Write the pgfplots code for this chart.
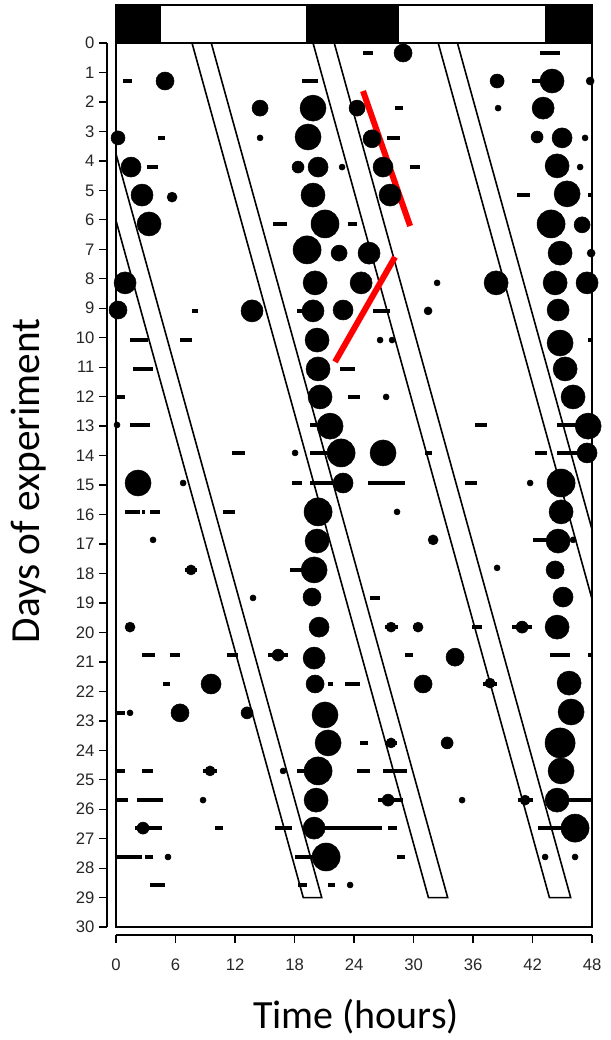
\documentclass[border=0pt]{standalone}
\usepackage{fontspec}
\setmainfont{Carlito}
\newfontfamily\tickfont{Liberation Sans}
\usepackage{pgfplots}
\usepackage{pgfplotstable}
\pgfplotsset{compat=1.18}

% blobs: hour, day, radius (pt)
\pgfplotstableread{
h d r
28.94 0.34 6.75
4.94 1.29 6.75
38.42 1.29 5.25
43.96 1.29 9
47.8 1.29 3
14.52 2.21 6
19.86 2.21 9.75
24.30 2.21 6
38.52 2.21 2.25
43.06 2.21 8.25
0.20 3.22 5.25
14.52 3.22 2.25
19.36 3.19 9.75
25.81 3.25 6.75
42.45 3.19 4.5
44.97 3.22 7.5
47.29 3.22 2.25
1.51 4.21 7.5
18.35 4.21 4.5
20.37 4.21 7.5
22.79 4.21 2.25
26.92 4.21 7.5
44.47 4.17 9
46.79 4.21 2.25
2.62 5.16 8.25
5.65 5.23 3.75
19.86 5.16 9
27.63 5.16 8.25
45.48 5.12 9.75
3.33 6.14 9
21.07 6.14 10.5
43.86 6.14 10.5
46.99 6.17 6
19.26 7.02 10.5
22.49 7.13 6
25.51 7.13 8.25
44.77 7.13 9
47.9 7.13 3
0.91 8.14 8.25
20.07 8.14 9
24.71 8.14 8.25
32.37 8.14 2.25
38.32 8.14 9
44.27 8.14 9
47.49 8.14 8.25
0.20 9.06 6.75
13.71 9.09 8.25
19.86 9.09 8.25
22.89 9.06 7.5
31.46 9.09 3
44.57 9.06 8.25
20.27 10.08 9
26.62 10.08 2.25
27.83 10.08 2.25
44.77 10.18 9.75
20.37 11.06 9
45.28 11.06 9
20.57 12.01 9
27.23 12.01 2.25
46.08 12.01 9
0.10 12.96 2.25
21.58 13.0 9.75
47.6 13.0 9.75
18.05 13.91 2.25
22.69 13.91 10.5
26.92 13.91 9.75
47.49 13.91 7.5
2.22 14.93 9.75
6.76 14.93 2.25
22.89 14.93 7.5
41.75 14.93 2.25
44.87 14.93 10.5
20.37 15.91 10.5
28.33 15.91 2.25
44.87 15.91 9
3.73 16.86 2.25
20.27 16.90 9
31.97 16.86 3.75
44.57 16.90 9
46.08 16.86 2.25
7.56 17.88 3.75
19.97 17.88 9.75
38.42 17.81 2.25
44.27 17.88 6.75
13.81 18.83 2.25
19.76 18.80 6.75
45.07 18.80 7.5
1.41 19.82 3.75
20.47 19.82 7.5
27.73 19.82 3.75
30.45 19.82 3.75
40.94 19.82 4.5
44.47 19.82 9
16.34 20.77 4.5
19.97 20.87 8.25
34.18 20.84 6.75
9.58 21.75 7.5
20.07 21.75 6.75
30.96 21.75 6.75
37.71 21.72 3.75
45.68 21.72 9
1.41 22.73 2.25
6.45 22.73 6.75
13.21 22.73 4.5
21.07 22.80 9.75
45.88 22.70 9.75
21.38 23.75 9.75
27.73 23.75 3.75
33.38 23.75 4.5
44.77 23.75 11.25
9.48 24.70 3.75
16.84 24.70 2.25
20.37 24.70 10.5
44.87 24.70 9.75
8.77 25.69 2.25
20.17 25.69 9
27.43 25.69 4.5
34.89 25.69 2.25
41.24 25.69 3.75
44.47 25.69 9
2.72 26.64 4.5
19.97 26.64 8.25
46.28 26.64 10.5
5.24 27.62 2.25
21.18 27.62 10.5
43.26 27.62 2.25
46.28 27.62 2.25
23.60 28.57 2.25
}\blobs

% short bouts: start hour, end hour, day
\pgfplotstableread{
a b d
24.91 25.92 0.34
42.75 44.77 0.34
0.71 1.61 1.29
18.76 20.37 1.29
41.9 43.96 1.29
28.13 28.94 2.21
4.24 4.94 3.22
27.33 28.64 3.22
3.13 4.24 4.21
29.65 30.65 4.21
40.44 41.75 5.16
47.6 48 5.16
15.83 17.24 6.14
23.39 24.30 6.14
7.66 8.27 9.09
18.25 18.86 9.09
25.92 27.63 9.09
1.41 3.23 10.08
6.45 7.66 10.08
47.6 48 10.08
1.71 3.73 11.06
22.59 24.10 11.06
0.10 0.91 12.01
23.39 24.60 12.01
1.41 3.43 12.96
19.56 20.87 12.96
36.20 37.41 12.96
44.47 46.49 12.96
11.70 13.01 13.91
19.56 21.28 13.91
31.16 31.86 13.91
42.25 43.46 13.91
44.47 46.79 13.91
17.75 18.76 14.93
19.56 22.59 14.93
25.41 29.14 14.93
35.19 36.40 14.93
0.91 2.42 15.91
2.62 2.92 15.91
3.43 4.44 15.91
10.79 12.00 15.91
42.05 43.46 16.86
6.96 8.17 17.88
17.55 18.76 17.88
25.61 26.62 18.83
27.12 28.44 19.82
29.95 30.86 19.82
35.90 36.91 19.82
39.93 41.95 19.82
2.62 3.93 20.77
5.45 6.45 20.77
11.19 12.30 20.77
15.33 17.34 20.77
29.14 29.95 20.77
43.76 45.78 20.77
47.60 48 20.77
4.74 5.45 21.75
21.38 21.88 21.75
23.09 24.60 21.75
37.01 38.42 21.75
0.10 0.91 22.73
24.60 25.41 23.75
27.12 28.33 23.75
0.10 0.91 24.70
2.62 3.73 24.70
8.77 10.18 24.70
18.25 19.26 24.70
24.30 25.61 24.70
26.92 29.34 24.70
0.10 1.21 25.69
2.12 4.74 25.69
26.42 28.94 25.69
40.54 42.05 25.69
45.07 48 25.69
1.92 4.64 26.64
9.98 10.79 26.64
16.03 17.75 26.64
20.27 23.90 26.64
23.60 26.82 26.64
27.43 28.33 26.64
42.55 45.07 26.64
0.10 2.62 27.62
2.92 3.73 27.62
18.05 20.87 27.62
28.33 29.14 27.62
3.43 4.94 28.57
18.35 19.26 28.57
21.38 22.08 28.57
}\bouts

\begin{document}
\begin{tikzpicture}
\begin{axis}[
  scale only axis,
  width=357pt, height=691.5pt,
  xmin=0, xmax=48, ymin=-1.29, ymax=30,
  y dir=reverse,
  axis line style={draw=none},
  xtick={0,6,...,48}, ytick={0,1,...,30},
  xtick pos=bottom, ytick pos=left,
  tick align=outside,
  major tick length=6pt,
  tick style={black, line width=1pt},
  xtick style={yshift=-6pt},
  ytick style={xshift=-6.75pt},
  /pgf/number format/assume math mode=true,
  xticklabel style={yshift=-14pt, font=\tickfont\fontsize{12.5}{12.5}\selectfont, text=black!85},
  yticklabel style={xshift=-6.75pt, font=\tickfont\fontsize{12.5}{12.5}\selectfont, text=black!85},
]
  % light/dark bar
  \addplot[fill=black, draw=none] coordinates {(0,-1.29) (4.5,-1.29) (4.5,0) (0,0)} -- cycle;
  \addplot[fill=black, draw=none] coordinates {(19.2,-1.29) (28.5,-1.29) (28.5,0) (19.2,0)} -- cycle;
  \addplot[fill=black, draw=none] coordinates {(43.2,-1.29) (48,-1.29) (48,0) (43.2,0)} -- cycle;

  % activity bouts
  \addplot[scatter, only marks, mark=*,
    scatter/use mapped color={draw=black, fill=black},
    visualization depends on={\thisrow{r} \as \rad},
    scatter/@pre marker code/.append style={/tikz/mark size=\rad pt}]
    table[x=h, y=d] {\blobs};
  \addplot[draw=none, mark=none,
    error bars/.cd, x dir=both, x explicit, error mark=none,
    error bar style={line width=3pt, black}]
    table[x expr={(\thisrow{a}+\thisrow{b})/2}, y=d,
          x error expr={(\thisrow{b}-\thisrow{a})/2}] {\bouts};

  % drifting bands
  \addplot[black, line width=1.2pt] coordinates {(0,6.03) (18.88,29) (20.74,29) (0,3.77)};
  \addplot[black, line width=1.2pt] coordinates {(7.66,0) (31.50,29) (33.44,29) (9.6,0)};
  \addplot[black, line width=1.2pt] coordinates {(19.86,0) (43.70,29) (45.84,29) (22.0,0)};
  \addplot[black, line width=1.2pt] coordinates {(32.48,0) (48,18.88)};
  \addplot[black, line width=1.2pt] coordinates {(34.42,0) (48,16.52)};

  % red marks
  \addplot[red, line width=4.5pt] coordinates {(24.9,1.63) (29.65,6.21)};
  \addplot[red, line width=4.5pt] coordinates {(28.13,7.26) (22.08,10.82)};

  \coordinate (fA) at (axis cs:0,-1.29);
  \coordinate (fB) at (axis cs:48,30);
  \coordinate (f0L) at (axis cs:0,0);
  \coordinate (f0R) at (axis cs:48,0);
  \coordinate (yA) at (axis cs:-0.91,0);
  \coordinate (yB) at (axis cs:-0.91,30);
  \coordinate (xA) at (axis cs:0,30.27);
  \coordinate (xB) at (axis cs:48,30.27);
  \coordinate (ylab) at (axis cs:-8.77,14.86);
  \coordinate (xlab) at (axis cs:24.2,33.05);
  \coordinate (bbA) at (axis cs:-11.70,-1.459);
  \coordinate (bbB) at (axis cs:49.81,33.83);
\end{axis}
\draw[line width=1.5pt] (fA) rectangle (fB);
\draw[line width=1.5pt] (f0L) -- (f0R);
\draw[line width=1pt] (yA) -- (yB);
\draw[line width=1pt] (xA) -- (xB);
\node[rotate=90, font=\fontsize{31}{36}\selectfont] at (ylab) {Days of experiment};
\node[font=\fontsize{30}{36}\selectfont] at (xlab) {Time (hours)};
\pgfresetboundingbox
\path (bbA) rectangle (bbB);
\end{tikzpicture}
\end{document}
